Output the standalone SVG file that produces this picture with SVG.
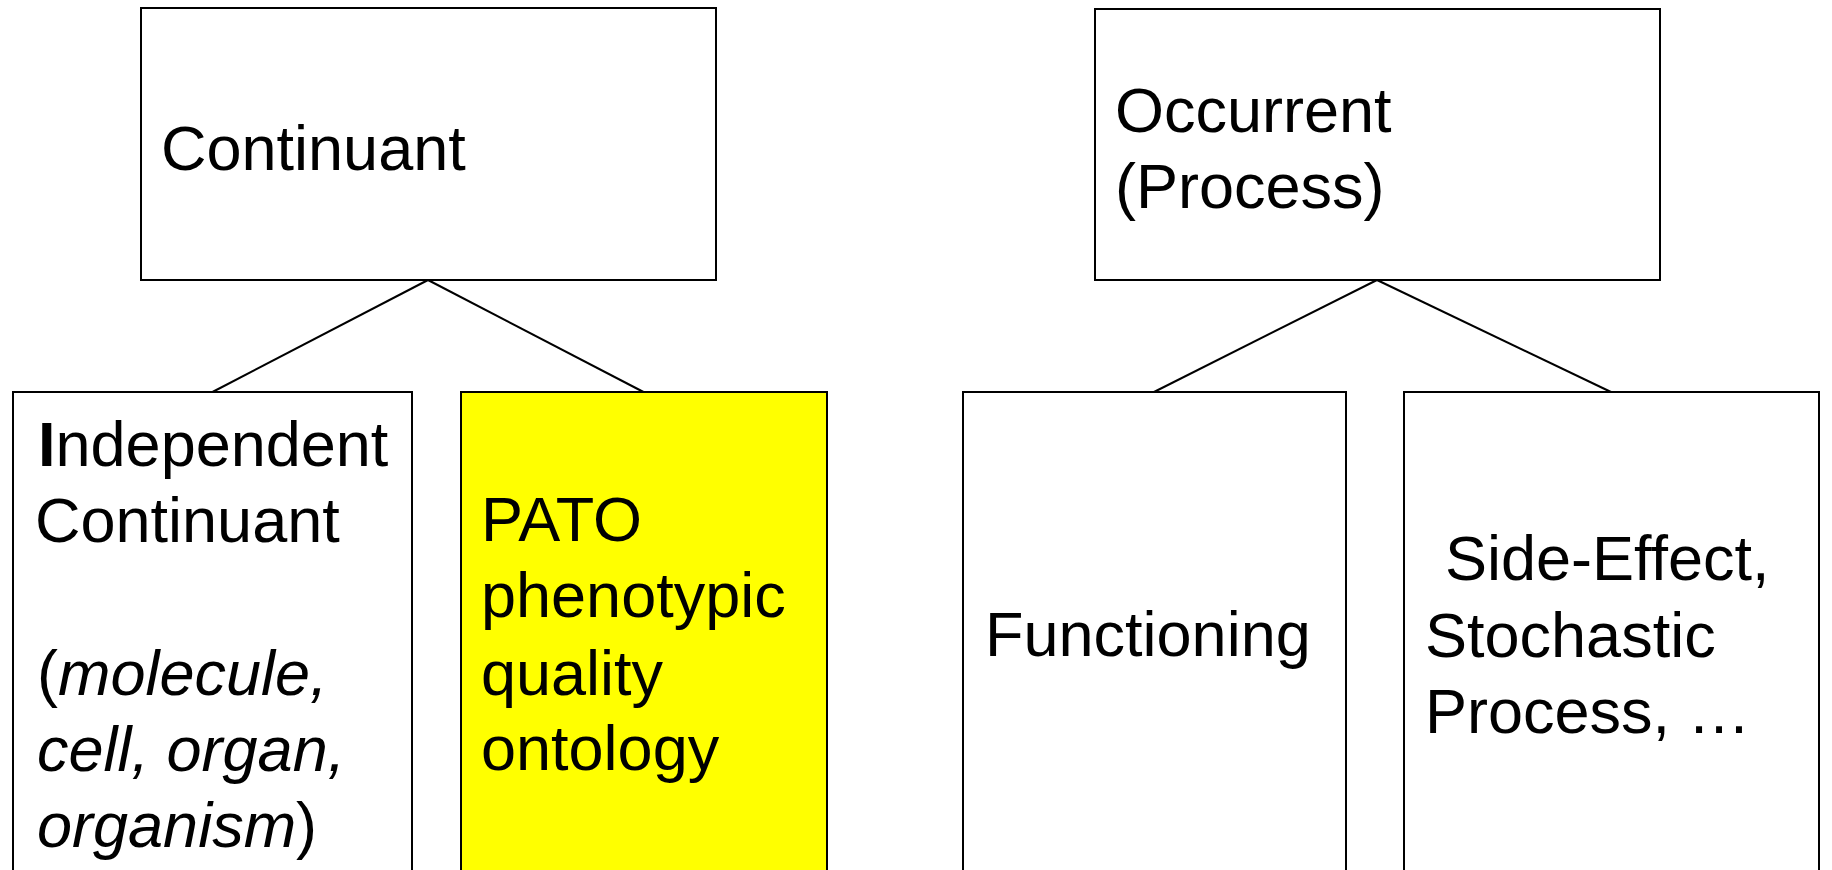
<svg xmlns="http://www.w3.org/2000/svg" width="1832" height="870" viewBox="0 0 1832 870">
  <style>
    .box { fill: #ffffff; stroke: #000000; stroke-width: 2; }
    .hl { fill: #ffff00; }
    .edge { stroke: #000000; stroke-width: 2; fill: none; }
    text { font-family: "Liberation Sans", Arial, sans-serif; font-size: 63px; fill: #000000; }
    .it { font-style: italic; }
    .b { font-weight: bold; }
  </style>
  <rect width="1832" height="870" fill="#ffffff"/>

  <g id="connectors">
    <line class="edge" x1="428" y1="280" x2="212.5" y2="392"/>
    <line class="edge" x1="428" y1="280" x2="643.5" y2="392"/>
    <line class="edge" x1="1377" y1="280" x2="1154" y2="392"/>
    <line class="edge" x1="1377" y1="280" x2="1611" y2="392"/>
  </g>

  <g id="continuant">
    <rect class="box" x="141" y="8" width="575" height="272"/>
    <text x="161" y="170">Continuant</text>
  </g>

  <g id="occurrent">
    <rect class="box" x="1095" y="9" width="565" height="271"/>
    <text x="1115" y="132">Occurrent</text>
    <text x="1115" y="208">(Process)</text>
  </g>

  <g id="independent-continuant">
    <rect class="box" x="13" y="392" width="399" height="520"/>
    <text x="38" y="466"><tspan class="b">I</tspan>ndependent</text>
    <text x="35" y="542">Continuant</text>
    <text x="37" y="695">(<tspan class="it">molecule,</tspan></text>
    <text x="37" y="771" class="it">cell, organ,</text>
    <text x="37" y="847"><tspan class="it">organism</tspan>)</text>
  </g>

  <g id="pato">
    <rect class="box hl" x="461" y="392" width="366" height="520"/>
    <text x="481" y="541">PATO</text>
    <text x="481" y="617">phenotypic</text>
    <text x="481" y="695">quality</text>
    <text x="481" y="770">ontology</text>
  </g>

  <g id="functioning">
    <rect class="box" x="963" y="392" width="383" height="520"/>
    <text x="985" y="656">Functioning</text>
  </g>

  <g id="side-effect">
    <rect class="box" x="1404" y="392" width="415" height="520"/>
    <text x="1445" y="580">Side-Effect,</text>
    <text x="1425" y="657">Stochastic</text>
    <text x="1425" y="733">Process, …</text>
  </g>
</svg>
